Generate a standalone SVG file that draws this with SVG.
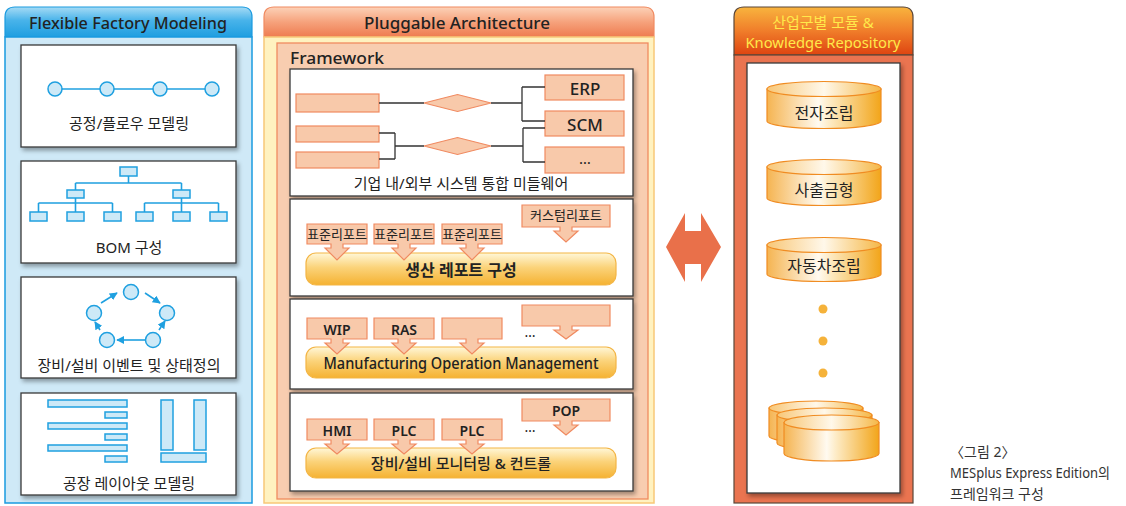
<svg xmlns="http://www.w3.org/2000/svg" width="1126" height="506" viewBox="0 0 1126 506">
<defs>
<linearGradient id="hdrBlue" x1="0" y1="0" x2="0" y2="1"><stop offset="0" stop-color="#a6dbf5"/><stop offset="0.45" stop-color="#48b3ea"/><stop offset="1" stop-color="#1e9ee0"/></linearGradient>
<linearGradient id="hdrOrange" x1="0" y1="0" x2="0" y2="1"><stop offset="0" stop-color="#fcd2b8"/><stop offset="0.5" stop-color="#f6a27c"/><stop offset="1" stop-color="#ee7b50"/></linearGradient>
<linearGradient id="hdrRed" x1="0" y1="0" x2="0" y2="1"><stop offset="0" stop-color="#f8b43e"/><stop offset="0.5" stop-color="#f07d2a"/><stop offset="1" stop-color="#de4410"/></linearGradient>
<linearGradient id="bar" x1="0" y1="0" x2="0" y2="1"><stop offset="0" stop-color="#fff7d8"/><stop offset="0.45" stop-color="#fbd37a"/><stop offset="1" stop-color="#f5b232"/></linearGradient>
<linearGradient id="cylBody" x1="0" y1="0" x2="1" y2="0"><stop offset="0" stop-color="#f5b451"/><stop offset="0.45" stop-color="#fffaf0"/><stop offset="0.55" stop-color="#fdebc5"/><stop offset="1" stop-color="#f2a51a"/></linearGradient>
<linearGradient id="cylTop" x1="0" y1="0" x2="1" y2="0"><stop offset="0" stop-color="#f8c777"/><stop offset="0.5" stop-color="#fff8ea"/><stop offset="1" stop-color="#f5b848"/></linearGradient>
<filter id="sh" x="-10%" y="-10%" width="125%" height="130%"><feDropShadow dx="2" dy="3" stdDeviation="2" flood-color="#000" flood-opacity="0.35"/></filter>
<marker id="ah" viewBox="0 0 10 10" refX="9" refY="5" markerWidth="5" markerHeight="5" orient="auto"><path d="M0,0 L10,5 L0,10 Z" fill="#1fa0e0"/></marker>
<style>
text { font-family: "Noto Sans", "Noto Sans CJK KR", sans-serif; fill: #222; }
.c { text-anchor: middle; dominant-baseline: central; }
.wbox { fill: #fff; stroke: #3a3a3a; stroke-width: 1.3; filter: url(#sh); }
.bl { fill: #cde9f7; stroke: #1fa0e0; stroke-width: 1.5; }
.bline { fill: none; stroke: #1fa0e0; stroke-width: 1.6; }
.pk { fill: #f8c9aa; stroke: #f08a60; stroke-width: 1.2; }
.gl { fill: none; stroke: #333; stroke-width: 1.3; }
.ybar { fill: url(#bar); stroke: #f3b545; stroke-width: 1.2; }
.cb { fill: url(#cylBody); stroke: #f08c22; stroke-width: 1.2; }
.ct { fill: url(#cylTop); stroke: #f08c22; stroke-width: 1.2; }
.t15 { font-size: 15px; }
.t13 { font-size: 13px; }
.t14 { font-size: 14px; font-weight: 600; }
.t17 { font-size: 17px; font-weight: 500; }
.dot { fill: #f5b23a; }
</style>
</defs>

<!-- LEFT PANEL -->
<g id="panel-left">
<path d="M5,37 V17 Q5,7 15,7 H242 Q252,7 252,17 V37 Z" fill="url(#hdrBlue)" stroke="#1a9be0" stroke-width="1.2"/>
<rect x="5" y="37" width="247" height="466" fill="#cfe9f7" stroke="#1a9be0" stroke-width="1.5"/>
<text class="c t17" x="128" y="22" textLength="198" lengthAdjust="spacingAndGlyphs">Flexible Factory Modeling</text>
</g>

<g id="node-process-flow">
<rect class="wbox" x="21" y="45" width="215" height="102"/>
<line class="bline" x1="55" y1="89" x2="212" y2="89"/>
<circle class="bl" cx="55" cy="89" r="7"/>
<circle class="bl" cx="107" cy="89" r="7"/>
<circle class="bl" cx="160" cy="89" r="7"/>
<circle class="bl" cx="212" cy="89" r="7"/>
<text class="c t15" x="129" y="123">공정/플로우 모델링</text>
</g>

<g id="node-bom">
<rect class="wbox" x="21" y="161" width="215" height="102"/>
<path class="bline" d="M128.5,176 V183 M75.5,183 H181.5 M75.5,183 V190 M181.5,183 V190 M75.5,198 V203 M181.5,198 V203 M38.5,203 H112.5 M144.5,203 H218.5 M38.5,203 V212 M75.5,203 V212 M112.5,203 V212 M144.5,203 V212 M181.5,203 V212 M218.5,203 V212"/>
<rect class="bl" x="120" y="167" width="17" height="9"/>
<rect class="bl" x="67" y="190" width="17" height="8"/>
<rect class="bl" x="173" y="190" width="17" height="8"/>
<rect class="bl" x="30" y="212" width="17" height="9"/>
<rect class="bl" x="67" y="212" width="17" height="9"/>
<rect class="bl" x="104" y="212" width="17" height="9"/>
<rect class="bl" x="136" y="212" width="17" height="9"/>
<rect class="bl" x="173" y="212" width="17" height="9"/>
<rect class="bl" x="210" y="212" width="17" height="9"/>
<text class="c t15" x="129" y="247">BOM 구성</text>
</g>

<g id="node-events">
<rect class="wbox" x="21" y="277" width="215" height="101"/>
<circle class="bl" cx="131" cy="292" r="7.5"/>
<circle class="bl" cx="94" cy="313" r="7.5"/>
<circle class="bl" cx="167" cy="313" r="7.5"/>
<circle class="bl" cx="107" cy="340" r="7.5"/>
<circle class="bl" cx="153" cy="340" r="7.5"/>
<text class="c t15" x="129" y="365">장비/설비 이벤트 및 상태정의</text>
</g>

<g id="node-layout">
<rect class="wbox" x="21" y="393" width="215" height="102"/>
<rect class="bl" x="48" y="400" width="79" height="7"/>
<rect class="bl" x="105" y="412" width="22" height="6"/>
<rect class="bl" x="48" y="423" width="79" height="6"/>
<rect class="bl" x="105" y="434" width="22" height="6"/>
<rect class="bl" x="48" y="445" width="79" height="6"/>
<rect class="bl" x="105" y="456" width="22" height="6"/>
<rect class="bl" x="161" y="400" width="12" height="50"/>
<rect class="bl" x="194" y="400" width="12" height="50"/>
<rect class="bl" x="161" y="453" width="45" height="9"/>
<text class="c t15" x="129" y="483">공장 레이아웃 모델링</text>
</g>

<!-- MIDDLE PANEL -->
<g id="panel-middle">
<path d="M264,37 V17 Q264,7 274,7 H644 Q654,7 654,17 V37 Z" fill="url(#hdrOrange)" stroke="#f08a60" stroke-width="1.2"/>
<rect x="264" y="37" width="390" height="466" fill="#fff2c0" stroke="#f8c878" stroke-width="1.5"/>
<rect x="277" y="43" width="371" height="456" fill="#f8cdb0" stroke="#f08a60" stroke-width="1.3"/>
<text class="c t17" x="457" y="22" textLength="186" lengthAdjust="spacingAndGlyphs">Pluggable Architecture</text>
<text class="t17" x="290" y="64" textLength="94" lengthAdjust="spacingAndGlyphs">Framework</text>
</g>

<g id="node-middleware">
<rect class="wbox" x="290" y="69" width="343" height="127"/>
<rect class="pk" x="296" y="94" width="83" height="18"/>
<rect class="pk" x="296" y="126" width="83" height="16"/>
<rect class="pk" x="296" y="152" width="83" height="16"/>
<polygon class="pk" points="424,103 457.5,94.5 491,103 457.5,111.5"/>
<polygon class="pk" points="424,146 457.5,137.5 491,146 457.5,154.5"/>
<rect class="pk" x="545" y="75" width="79" height="25"/>
<rect class="pk" x="545" y="111" width="79" height="25"/>
<rect class="pk" x="545" y="147" width="79" height="26"/>
<text class="c" x="585" y="88" font-size="17" font-weight="500">ERP</text>
<text class="c" x="585" y="124" font-size="17" font-weight="500">SCM</text>
<text class="c" x="585" y="158" font-size="15">…</text>
<text class="c t15" x="461" y="183">기업 내/외부 시스템 통합 미들웨어</text>
</g>

<g id="node-reports">
<rect class="wbox" x="290" y="199" width="343" height="97"/>
<rect class="ybar" x="306" y="253" width="310" height="32" rx="10"/>
<path class="pk" d="M307,224 H367 V244 H343 V248 H349 L337,260 L325,248 H331 V244 H307 Z"/>
<path class="pk" d="M374,224 H434 V244 H410 V248 H416 L404,260 L392,248 H398 V244 H374 Z"/>
<path class="pk" d="M442,224 H502 V244 H478 V248 H484 L472,260 L460,248 H466 V244 H442 Z"/>
<path class="pk" d="M522,205 H610 V227 H572 V231 H578 L566,242 L554,231 H560 V227 H522 Z"/>
<text class="c t13" x="337" y="234">표준리포트</text>
<text class="c t13" x="404" y="234">표준리포트</text>
<text class="c t13" x="472" y="234">표준리포트</text>
<text class="c t13" x="566" y="215">커스텀리포트</text>
<text class="c" x="461" y="270" font-size="16" font-weight="600">생산 레포트 구성</text>
</g>

<g id="node-mom">
<rect class="wbox" x="290" y="299" width="343" height="90"/>
<rect class="ybar" x="306" y="347" width="310" height="31" rx="10"/>
<path class="pk" d="M307,318 H367 V339 H343 V343 H349 L337,354 L325,343 H331 V339 H307 Z"/>
<path class="pk" d="M374,318 H434 V339 H410 V343 H416 L404,354 L392,343 H398 V339 H374 Z"/>
<path class="pk" d="M442,318 H502 V339 H478 V343 H484 L472,354 L460,343 H466 V339 H442 Z"/>
<path class="pk" d="M522,305 H610 V326 H572 V330 H578 L566,339 L554,330 H560 V326 H522 Z"/>
<text class="c t14" x="337" y="329">WIP</text>
<text class="c t14" x="404" y="329">RAS</text>
<text class="c" x="530" y="331" font-size="14">…</text>
<text class="c" x="461" y="363" font-size="16" font-weight="500" textLength="275" lengthAdjust="spacingAndGlyphs">Manufacturing Operation Management</text>
</g>

<g id="node-monitoring">
<rect class="wbox" x="290" y="393" width="343" height="98"/>
<rect class="ybar" x="306" y="448" width="310" height="30" rx="10"/>
<path class="pk" d="M307,419 H367 V440 H343 V444 H349 L337,454 L325,444 H331 V440 H307 Z"/>
<path class="pk" d="M374,419 H434 V440 H410 V444 H416 L404,454 L392,444 H398 V440 H374 Z"/>
<path class="pk" d="M442,419 H502 V440 H478 V444 H484 L472,454 L460,444 H466 V440 H442 Z"/>
<path class="pk" d="M522,399 H610 V421 H572 V425 H578 L566,435 L554,425 H560 V421 H522 Z"/>
<text class="c t14" x="337" y="430">HMI</text>
<text class="c t14" x="404" y="430">PLC</text>
<text class="c t14" x="472" y="430">PLC</text>
<text class="c t14" x="566" y="410">POP</text>
<text class="c" x="530" y="426" font-size="14">…</text>
<text class="c" x="461" y="463" font-size="15" font-weight="500">장비/설비 모니터링 &amp; 컨트롤</text>
</g>

<!-- RIGHT PANEL -->
<g id="panel-right">
<path d="M734,55 V17 Q734,7 744,7 H903 Q913,7 913,17 V55 Z" fill="url(#hdrRed)" stroke="#5a4638" stroke-width="1.2"/>
<rect x="734" y="55" width="179" height="448" fill="#ea7450" stroke="#5a4638" stroke-width="1.2"/>
<rect class="wbox" x="747" y="63" width="153" height="430" stroke="#555"/>
<text class="c" x="823" y="22" font-size="15" style="fill:#ffe94a">산업군별 모듈 &amp;</text>
<text class="c" x="823" y="42" font-size="15" style="fill:#ffe94a" textLength="155" lengthAdjust="spacingAndGlyphs">Knowledge Repository</text>
</g>

<g id="node-electronics">
<path class="cb" d="M767,89 V121 A57,7.5 0 0 0 881,121 V89 Z"/>
<ellipse class="ct" cx="824" cy="89" rx="57" ry="7.5"/>
<text class="c" x="824" y="113" font-size="16">전자조립</text>
</g>
<g id="node-injection">
<path class="cb" d="M767,167 V198 A57,7.5 0 0 0 881,198 V167 Z"/>
<ellipse class="ct" cx="824" cy="167" rx="57" ry="7.5"/>
<text class="c" x="824" y="190" font-size="16">사출금형</text>
</g>
<g id="node-auto">
<path class="cb" d="M767,245 V274 A57,7.5 0 0 0 881,274 V245 Z"/>
<ellipse class="ct" cx="824" cy="245" rx="57" ry="7.5"/>
<text class="c" x="824" y="266" font-size="16">자동차조립</text>
</g>
<g id="node-more">
<circle class="dot" cx="823" cy="309" r="4.5"/>
<circle class="dot" cx="823" cy="341" r="4.5"/>
<circle class="dot" cx="823" cy="373" r="4.5"/>
</g>
<g id="node-stack">
<path class="cb" d="M769,408 V436 A47,7 0 0 0 863,436 V408 Z"/>
<ellipse class="ct" cx="816" cy="408" rx="47" ry="7"/>
<path class="cb" d="M777,415 V443 A47.5,7 0 0 0 872,443 V415 Z"/>
<ellipse class="ct" cx="824.5" cy="415" rx="47.5" ry="7"/>
<path class="cb" d="M784,422.5 V453.5 A47.5,7.5 0 0 0 879,453.5 V422.5 Z"/>
<ellipse class="ct" cx="831.5" cy="422.5" rx="47.5" ry="7.5"/>
</g>

<!-- CONNECTORS -->
<g id="connectors">
<path class="gl" d="M379,103 H424 M491,103 H522 M522,87 V121 M522,87 H545 M522,121 H545"/>
<path class="gl" d="M379,133 H395 M379,159 H395 M395,133 V159 M395,146 H424 M491,146 H523 M523,128 V162 M523,128 H545 M523,162 H545"/>
<g stroke="#1fa0e0" stroke-width="1.6" fill="none" marker-end="url(#ah)">
<line x1="101" y1="303" x2="117" y2="293"/>
<line x1="145" y1="293" x2="160" y2="303"/>
<line x1="159" y1="330" x2="165" y2="321"/>
<line x1="145" y1="340" x2="117" y2="340"/>
<line x1="100" y1="330" x2="95" y2="322"/>
</g>
<polygon id="double-arrow" points="666,247 685,213 685,231 701,231 701,213 721,247 701,282 701,264 685,264 685,282" fill="#e9704a"/>
</g>

<g id="caption">
<text x="950" y="457" font-size="14" style="fill:#333">〈그림 2〉</text>
<text x="950" y="478" font-size="14" style="fill:#333" textLength="160" lengthAdjust="spacingAndGlyphs">MESplus Express Edition의</text>
<text x="950" y="499" font-size="14" style="fill:#333">프레임워크 구성</text>
</g>
</svg>
